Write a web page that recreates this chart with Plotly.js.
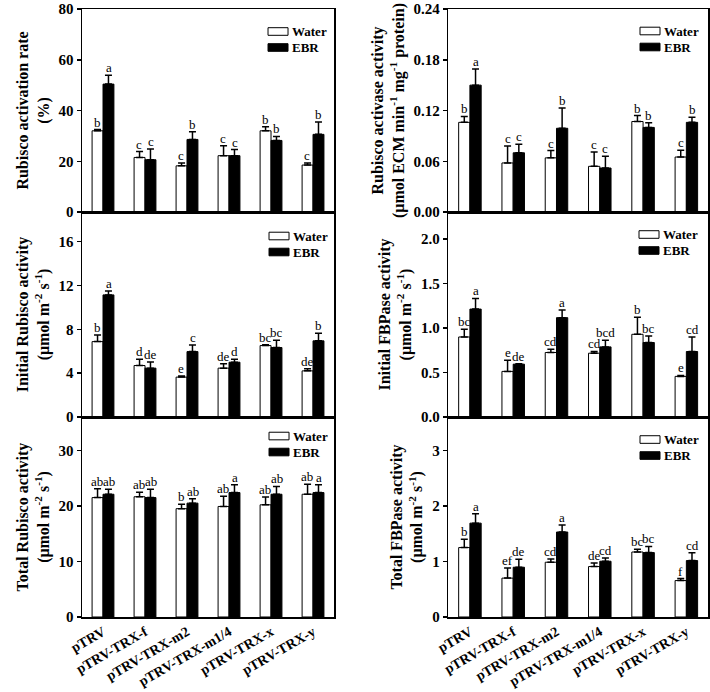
<!DOCTYPE html>
<html>
<head>
<meta charset="utf-8">
<script src="https://cdn.plot.ly/plotly-3.0.1.min.js"></script>
<style>html,body{margin:0;padding:0;background:#fff;}#chart{width:710px;height:692px;}</style>
</head>
<body>
<div id="chart"></div>
<script>
// ---------- data ----------
const categories = ["pTRV", "pTRV-TRX-f", "pTRV-TRX-m2", "pTRV-TRX-m1/4", "pTRV-TRX-x", "pTRV-TRX-y"];
const seriesNames = ["Water", "EBR"];

// Rubisco activation rate (%)
const actRateWater = [32.0, 21.5, 18.2, 22.2, 32.0, 18.5];
const actRateWaterErr = [0.5, 2.3, 1.1, 3.9, 1.6, 0.8];
const actRateEBR = [50.4, 20.6, 28.6, 22.2, 28.2, 30.6];
const actRateEBRErr = [3.5, 4.2, 3.0, 2.4, 1.6, 4.9];
const actRateWaterLet = ["b", "c", "c", "c", "b", "c"];
const actRateEBRLet = ["a", "c", "b", "c", "b", "b"];

// Rubisco activase activity
const activaseWater = [0.106, 0.058, 0.064, 0.054, 0.107, 0.065];
const activaseWaterErr = [0.007, 0.020, 0.0086, 0.017, 0.007, 0.008];
const activaseEBR = [0.150, 0.070, 0.099, 0.052, 0.100, 0.106];
const activaseEBRErr = [0.019, 0.010, 0.024, 0.014, 0.0055, 0.006];
const activaseWaterLet = ["b", "c", "c", "c", "b", "c"];
const activaseEBRLet = ["a", "c", "b", "c", "b", "b"];

// Initial Rubisco activity
const initRubWater = [6.88, 4.70, 3.64, 4.46, 6.52, 4.21];
const initRubWaterErr = [0.60, 0.58, 0.10, 0.39, 0.08, 0.20];
const initRubEBR = [11.14, 4.46, 5.97, 5.00, 6.34, 6.95];
const initRubEBRErr = [0.36, 0.55, 0.60, 0.28, 0.67, 0.70];
const initRubWaterLet = ["b", "d", "e", "de", "bc", "de"];
const initRubEBRLet = ["a", "de", "c", "d", "bc", "b"];

// Initial FBPase activity
const initFbpWater = [0.898, 0.512, 0.724, 0.716, 0.928, 0.456];
const initFbpWaterErr = [0.086, 0.126, 0.037, 0.020, 0.190, 0.011];
const initFbpEBR = [1.211, 0.593, 1.115, 0.787, 0.836, 0.735];
const initFbpEBRErr = [0.120, 0.005, 0.085, 0.074, 0.074, 0.163];
const initFbpWaterLet = ["bc", "e", "cd", "cd", "b", "e"];
const initFbpEBRLet = ["a", "de", "a", "bcd", "bc", "cd"];

// Total Rubisco activity
const totRubWater = [21.5, 21.65, 19.5, 19.9, 20.2, 22.1];
const totRubWaterErr = [1.6, 0.8, 0.8, 1.85, 1.4, 1.8];
const totRubEBR = [22.1, 21.5, 20.5, 22.4, 22.1, 22.4];
const totRubEBRErr = [0.9, 1.5, 0.8, 1.4, 1.4, 1.4];
const totRubWaterLet = ["ab", "ab", "b", "ab", "ab", "ab"];
const totRubEBRLet = ["ab", "ab", "ab", "a", "ab", "a"];

// Total FBPase activity
const totFbpWater = [1.25, 0.70, 0.986, 0.908, 1.17, 0.656];
const totFbpWaterErr = [0.15, 0.18, 0.06, 0.066, 0.048, 0.036];
const totFbpEBR = [1.69, 0.896, 1.53, 1.004, 1.16, 1.016];
const totFbpEBRErr = [0.17, 0.145, 0.126, 0.06, 0.11, 0.14];
const totFbpWaterLet = ["b", "ef", "cd", "de", "bc", "f"];
const totFbpEBRLet = ["a", "de", "a", "cd", "bc", "cd"];

// ---------- styling / layout ----------
const FONT = "'Times New Roman', 'Liberation Serif', serif";
const panels = [
  {ax: "", w: actRateWater, we: actRateWaterErr, e: actRateEBR, ee: actRateEBRErr, wl: actRateWaterLet, el: actRateEBRLet,
   title: "Rubisco activation rate<br>(%)", range: [0, 80], dtick: 20, fmt: "", leg: [-66, 22.5]},
  {ax: "2", w: activaseWater, we: activaseWaterErr, e: activaseEBR, ee: activaseEBRErr, wl: activaseWaterLet, el: activaseEBRLet,
   title: "Rubisco activase activity<br>(μmol ECM min<sup>-1</sup> mg<sup>-1</sup> protein)", range: [0, 0.24], dtick: 0.06, fmt: ".2f", leg: [-68, 22]},
  {ax: "3", w: initRubWater, we: initRubWaterErr, e: initRubEBR, ee: initRubEBRErr, wl: initRubWaterLet, el: initRubEBRLet,
   title: "Initial Rubisco activity<br>(μmol m<sup>-2</sup> s<sup>-1</sup>)", range: [0, 18.7], dtick: 4, fmt: "", leg: [-65, 24]},
  {ax: "4", w: initFbpWater, we: initFbpWaterErr, e: initFbpEBR, ee: initFbpEBRErr, wl: initFbpWaterLet, el: initFbpEBRLet,
   title: "Initial FBPase activity<br>(μmol m<sup>-2</sup> s<sup>-1</sup>)", range: [0, 2.3], dtick: 0.5, fmt: ".1f", leg: [-69, 22.5]},
  {ax: "5", w: totRubWater, we: totRubWaterErr, e: totRubEBR, ee: totRubEBRErr, wl: totRubWaterLet, el: totRubEBRLet,
   title: "Total Rubisco activity<br>(μmol m<sup>-2</sup> s<sup>-1</sup>)", range: [0, 36], dtick: 10, fmt: "", leg: [-65, 19]},
  {ax: "6", w: totFbpWater, we: totFbpWaterErr, e: totFbpEBR, ee: totFbpEBRErr, wl: totFbpWaterLet, el: totFbpEBRLet,
   title: "Total FBPase activity<br>(μmol m<sup>-2</sup> s<sup>-1</sup>)", range: [0, 3.6], dtick: 1, fmt: "", leg: [-68, 22.5]}
];

const xDomL = [0, 0.4026], xDomR = [0.5851, 1];
const yDoms = [[0.6661, 1], [0.3289, 0.6661], [0, 0.3289]];

const data = [];
const annotations = [];
const shapes = [];
const layout = {
  width: 710, height: 692,
  margin: {l: 82, r: 2, t: 9, b: 75},
  paper_bgcolor: "#fff", plot_bgcolor: "#fff",
  barmode: "group", bargap: 0.48, bargroupgap: 0,
  showlegend: false,
  font: {family: FONT, color: "#000", size: 14}
};

const zeros = categories.map(() => 0);

panels.forEach((p, i) => {
  const xa = "x" + p.ax, ya = "y" + p.ax;
  const left = (i % 2 === 0);
  const row = Math.floor(i / 2);
  const bottom = row === 2;
  const shift = left ? 5.6 : 5.7;

  [[p.w, p.we, "white", p.wl, -shift], [p.e, p.ee, "black", p.el, shift]].forEach((s, k) => {
    data.push({
      type: "bar", name: seriesNames[k], x: categories, y: s[0],
      xaxis: xa, yaxis: ya,
      marker: {color: s[2], line: {color: "#000", width: 1}},
      error_y: {type: "data", symmetric: false, array: s[1], arrayminus: zeros,
                color: "#000", thickness: 1.5, width: 3.5},
      hoverinfo: "skip"
    });
    categories.forEach((c, j) => {
      annotations.push({
        xref: xa, yref: ya, x: c, y: s[0][j] + s[1][j],
        xshift: s[4], yshift: -1, yanchor: "bottom", xanchor: "center",
        text: s[3][j], showarrow: false, borderpad: 0,
        font: {family: FONT, size: 13, color: "#000"}
      });
    });
  });

  // legend (per panel)
  const dref = {xref: xa + " domain", yref: ya + " domain"};
  ["white", "black"].forEach((col, k) => {
    const cy = -(p.leg[1] + k * 16);
    shapes.push(Object.assign({}, dref, {
      type: "rect", xsizemode: "pixel", ysizemode: "pixel",
      xanchor: 1, yanchor: 1,
      x0: p.leg[0], x1: p.leg[0] + 20, y0: cy - 3.8, y1: cy + 3.8,
      fillcolor: col, line: {color: "#000", width: 1}
    }));
    annotations.push(Object.assign({}, dref, {
      x: 1, y: 1, xanchor: "left", yanchor: "middle",
      xshift: p.leg[0] + 22, yshift: cy,
      text: seriesNames[k], showarrow: false,
      font: {family: FONT, size: 13, color: "#000", weight: "bold"}
    }));
  });

  const xkey = "xaxis" + p.ax, ykey = "yaxis" + p.ax;
  layout[xkey] = {
    domain: left ? xDomL : xDomR, anchor: ya,
    type: "category", range: [-0.5, 5.5],
    showline: true, mirror: true, linecolor: "#000", linewidth: 1.5,
    ticks: "", showgrid: false, zeroline: false,
    showticklabels: bottom, tickangle: -30,
    tickfont: {family: FONT, size: 14, color: "#000", weight: "bold"},
    fixedrange: true
  };
  layout[ykey] = {
    domain: yDoms[row], anchor: xa,
    range: p.range, dtick: p.dtick, tick0: 0, tickformat: p.fmt,
    showline: true, mirror: true, linecolor: "#000", linewidth: 1.5,
    ticks: "outside", ticklen: 4, tickwidth: 1.5, tickcolor: "#000",
    showgrid: false, zeroline: false,
    tickfont: {family: FONT, size: 15, color: "#000", weight: "bold"},
    title: {text: p.title, standoff: 5,
            font: {family: FONT, size: 16, color: "#000", weight: "bold"}},
    fixedrange: true
  };
});

layout.annotations = annotations;
layout.shapes = shapes;

Plotly.newPlot("chart", data, layout, {displayModeBar: false, staticPlot: true});
</script>
</body>
</html>
